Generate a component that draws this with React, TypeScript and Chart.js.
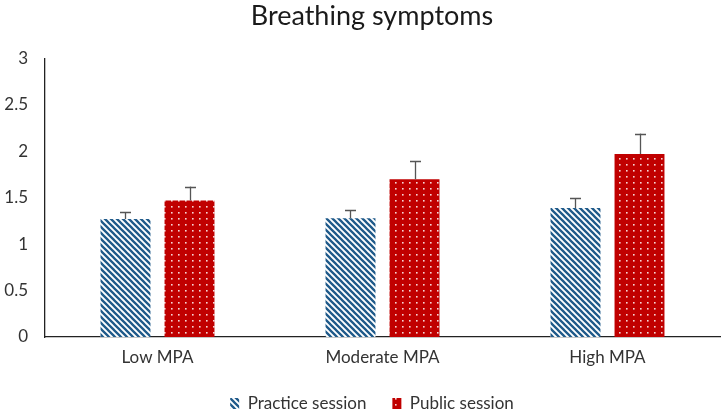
import React, { useEffect, useRef } from "react";
import { Chart, registerables } from "chart.js";

Chart.register(...registerables);

const categories = ["Low MPA", "Moderate MPA", "High MPA"];
const practiceValues = [1.27, 1.28, 1.39];
const practiceErrors = [0.08, 0.09, 0.11];
const publicValues = [1.47, 1.7, 1.97];
const publicErrors = [0.15, 0.19, 0.22];
const yTicks = [0, 0.5, 1, 1.5, 2, 2.5, 3];

function makeStripes(): CanvasPattern | string {
  const c = document.createElement("canvas");
  c.width = 6;
  c.height = 6;
  const g = c.getContext("2d");
  if (!g) return "#1F5A8A";
  g.fillStyle = "#ffffff";
  g.fillRect(0, 0, 6, 6);
  g.strokeStyle = "#1F5A8A";
  g.lineWidth = 2.3;
  g.beginPath();
  g.moveTo(-1, -1);
  g.lineTo(7, 7);
  g.moveTo(-4, 2);
  g.lineTo(4, 10);
  g.moveTo(2, -4);
  g.lineTo(10, 4);
  g.stroke();
  return g.createPattern(c, "repeat") || "#1F5A8A";
}

function makeDots(): CanvasPattern | string {
  const c = document.createElement("canvas");
  c.width = 7;
  c.height = 6;
  const g = c.getContext("2d");
  if (!g) return "#C00000";
  g.fillStyle = "#C00000";
  g.fillRect(0, 0, 7, 6);
  g.fillStyle = "#F6D6D6";
  g.fillRect(3, 2, 1.6, 1.6);
  return g.createPattern(c, "repeat") || "#C00000";
}

const PLOT_BOTTOM = 337;
const RIGHT_SHIFT = 18;

const errorBarPlugin = {
  id: "errorBars",
  afterDatasetsDraw(chart: any) {
    const ctx = chart.ctx;
    const y = chart.scales.y;
    const errs = [practiceErrors, publicErrors];
    const vals = [practiceValues, publicValues];
    ctx.save();
    ctx.strokeStyle = "#555555";
    ctx.lineWidth = 1.3;
    chart.data.datasets.forEach((_: any, di: number) => {
      const meta = chart.getDatasetMeta(di);
      meta.data.forEach((bar: any, i: number) => {
        const x = Math.round(bar.x) + 0.5;
        const y0 = y.getPixelForValue(vals[di][i]);
        const y1 = y.getPixelForValue(vals[di][i] + errs[di][i]);
        ctx.beginPath();
        ctx.moveTo(x, y0);
        ctx.lineTo(x, y1);
        ctx.moveTo(x - 5.5, Math.round(y1) + 0.5);
        ctx.lineTo(x + 5.5, Math.round(y1) + 0.5);
        ctx.stroke();
      });
    });
    ctx.restore();
  },
};

export default function App() {
  const ref = useRef<HTMLCanvasElement | null>(null);
  useEffect(() => {
    if (!ref.current) return;
    const font = "Lato, 'Open Sans', sans-serif";
    const chart = new Chart(ref.current, {
      type: "bar",
      data: {
        labels: categories,
        datasets: [
          {
            label: "Practice session",
            data: practiceValues,
            backgroundColor: makeStripes() as any,
            borderWidth: 0,
            categoryPercentage: 0.569,
            barPercentage: 0.78,
          },
          {
            label: "Public session",
            data: publicValues,
            backgroundColor: makeDots() as any,
            borderWidth: 0,
            categoryPercentage: 0.569,
            barPercentage: 0.78,
          },
        ],
      },
      options: {
        animation: false,
        responsive: false,
        layout: { padding: { left: 0, right: -RIGHT_SHIFT, top: 0, bottom: -5 } },
        plugins: {
          title: {
            display: true,
            text: "Breathing symptoms",
            color: "#1a1a1a",
            font: { family: font, size: 27, weight: "normal" },
            padding: { top: 0, bottom: 26 },
          },
          legend: {
            position: "bottom",
            labels: {
              color: "#333333",
              font: { family: font, size: 17 },
              boxWidth: 9,
              boxHeight: 11,
              padding: 26,
            },
          },
          tooltip: { enabled: false },
        },
        scales: {
          x: {
            grid: { display: false, drawTicks: false },
            border: { display: true, color: "#222222", width: 1.3 },
            ticks: { color: "#333333", font: { family: font, size: 17 }, padding: 10 },
            afterFit(scale: any) {
              const lg = scale.chart.legend;
              const lh = lg && lg.height ? lg.height : 53;
              scale.height = 417 + 5 - PLOT_BOTTOM - lh;
            },
          },
          y: {
            min: 0,
            max: 3,
            afterBuildTicks(scale: any) {
              scale.ticks = yTicks.map((v) => ({ value: v }));
            },
            grid: { display: false, drawOnChartArea: false, drawTicks: true, tickLength: 6, color: "#222222" },
            border: { display: true, color: "#222222", width: 1.3 },
            ticks: {
              color: "#333333",
              font: { family: font, size: 17 },
              padding: 11,
              callback: (v: any) => String(v),
            },
            afterFit(scale: any) {
              scale.width = 45;
            },
          },
          yRightSpacer: {
            type: "linear",
            position: "right",
            display: true,
            min: 0,
            max: 3,
            grid: { display: false, drawTicks: false },
            border: { display: false },
            ticks: { display: false },
            afterFit(scale: any) {
              scale.width = 6 + RIGHT_SHIFT;
            },
          },
        },
      },
      plugins: [errorBarPlugin],
    });
    return () => chart.destroy();
  }, []);
  return (
    <div style={{ position: "fixed", left: 0, top: 0, width: 726, height: 417, background: "#fff" }}>
      <canvas ref={ref} width={726} height={417} />
    </div>
  );
}
